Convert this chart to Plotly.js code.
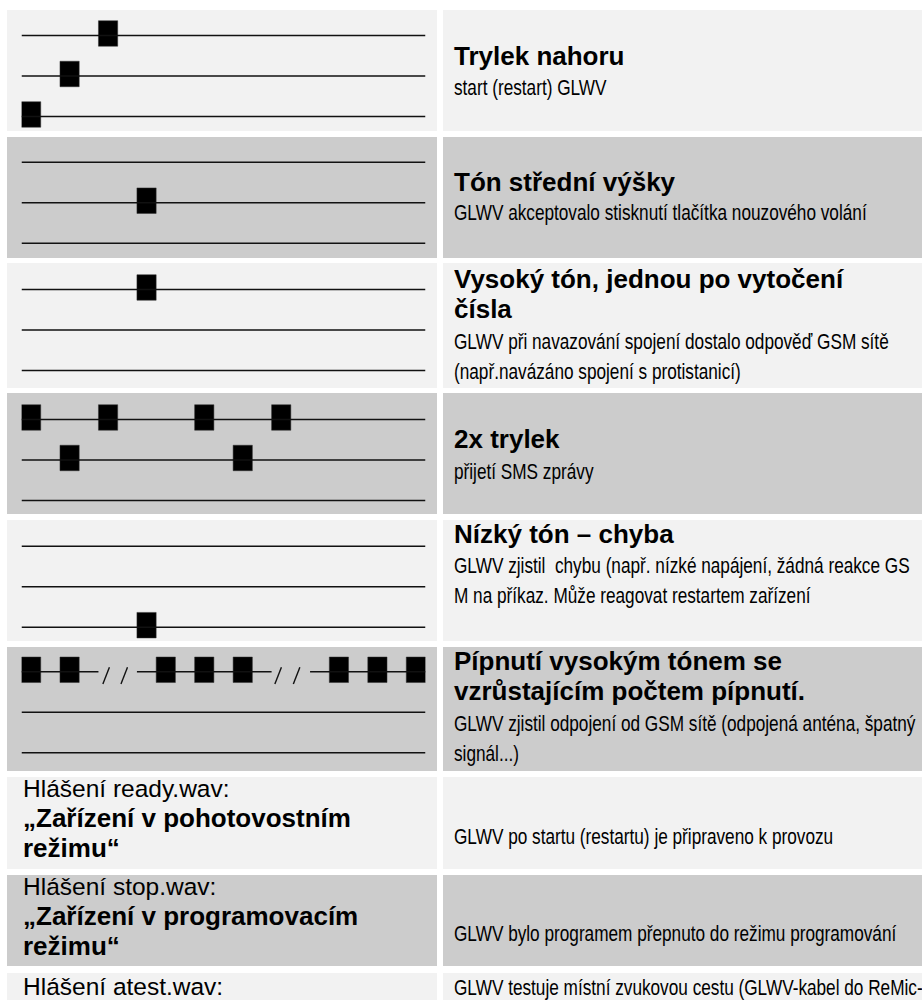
<!DOCTYPE html>
<html>
<head>
<meta charset="utf-8">
<script src="https://cdn.plot.ly/plotly-3.0.1.min.js"></script>
<style>
html,body{margin:0;padding:0;background:#ffffff;}
#chart{width:922px;height:1000px;}
</style>
</head>
<body>
<div id="chart"></div>
<script>
// ---------------- DATA ----------------
// beep positions (time slot) and pitch (1 = low line, 2 = middle line, 3 = high line) per signal row
const beepSlots = [
  [2, 1, 0],
  [3],
  [3],
  [0, 2, 4.5, 6.5, 1, 5.5],
  [3],
  [0, 1, 3.5, 4.5, 5.5, 8, 9, 10]
];
const beepPitch = [
  [3, 2, 1],
  [2],
  [3],
  [3, 3, 3, 3, 2, 2],
  [1],
  [3, 3, 3, 3, 3, 3, 3, 3]
];
const staffPitches = [1, 2, 3];
// "/ /" pause marks on the high line of the last signal row
const pauseSlots = [1.95, 2.42, 6.42, 6.9];
const staffGaps = [[1.75, 2.75], [6.25, 7.25]];

const toneTitles = [
  ["Trylek nahoru"],
  ["Tón střední výšky"],
  ["Vysoký tón, jednou po vytočení", "čísla"],
  ["2x trylek"],
  ["Nízký tón – chyba"],
  ["Pípnutí vysokým tónem se", "vzrůstajícím počtem pípnutí."]
];
const toneDescriptions = [
  ["start (restart) GLWV"],
  ["GLWV akceptovalo stisknutí tlačítka nouzového volání"],
  ["GLWV při navazování spojení dostalo odpověď GSM sítě", "(např.navázáno spojení s protistanicí)"],
  ["přijetí SMS zprávy"],
  ["GLWV zjistil\u00a0 chybu (např. nízké napájení, žádná reakce GS", "M na příkaz. Může reagovat restartem zařízení"],
  ["GLWV zjistil odpojení od GSM sítě (odpojená anténa, špatný", "signál...)"]
];
const announceLabels = ["Hlášení ready.wav:", "Hlášení stop.wav:", "Hlášení atest.wav:"];
const announceQuotes = [
  ["\u201EZařízení v pohotovostním", "režimu\u201C"],
  ["\u201EZařízení v programovacím", "režimu\u201C"],
  []
];
const announceDescriptions = [
  "GLWV po startu (restartu) je připraveno k provozu",
  "GLWV bylo programem přepnuto do režimu programování",
  "GLWV testuje místní zvukovou cestu (GLWV-kabel do ReMic-"
];

// ---------------- LAYOUT GEOMETRY ----------------
const W = 922, H = 1000;
const px = v => v / W;
const py = v => 1 - v / H;

const rowTop    = [10, 137, 263, 393, 520, 647, 777, 875, 973];
const rowBottom = [131, 258, 388, 514, 641, 771, 869, 966, 1010];
const fills = ["#f2f2f2", "#cccccc"];
const leftCell = [7, 437], rightCell = [443, 922];

const staffMid = [76, 202.7, 330, 460, 586.7, 712.3];
const staffStep = 40.5;
const staffX = [21.5, 425.5];
const slotRange = [-0.25, 10.25];

const toneTitleBase = [[65], [191.5], [288, 318], [448], [543], [670, 700]];
const toneDescBase = [[95], [220], [349, 379], [479], [573, 603], [731, 761]];
const announceLabelBase = [797, 895, 994.5];
const announceQuoteBase = [[827, 857], [925, 955], []];
const announceDescBase = [844, 941, 995];

const titleFont = {family: '"Liberation Sans", Arial, sans-serif', size: 26, color: '#000', weight: 'bold'};
const labelFont = {family: '"Liberation Sans", Arial, sans-serif', size: 24.5, color: '#000'};
const descFont  = {family: '"Liberation Sans", Arial, sans-serif', size: 22.5, color: '#000'};
const descScaleX = 0.765;   // condensed look of the description typeface

const rightTextX = 452, leftTextX = 20.5;

// ---------------- BUILD ----------------
const data = [];
const layout = {
  width: W, height: H,
  margin: {l: 0, r: 0, t: 0, b: 0, pad: 0},
  paper_bgcolor: '#ffffff',
  plot_bgcolor: 'rgba(0,0,0,0)',
  showlegend: false,
  barmode: 'overlay',
  shapes: [],
  annotations: []
};

// cell backgrounds
rowTop.forEach((t, i) => {
  const b = rowBottom[i];
  [leftCell, rightCell].forEach(c => {
    layout.shapes.push({
      type: 'rect', xref: 'paper', yref: 'paper', layer: 'below',
      x0: px(c[0]), x1: px(c[1]), y0: py(b), y1: py(t),
      fillcolor: fills[i % 2], line: {width: 0}
    });
  });
});

// signal rows
beepSlots.forEach((slots, r) => {
  const n = r + 1;
  const xa = 'x' + (n === 1 ? '' : n), ya = 'y' + (n === 1 ? '' : n);
  const top = staffMid[r] - 1.5 * staffStep, bot = staffMid[r] + 1.5 * staffStep;
  layout['xaxis' + (n === 1 ? '' : n)] = {
    domain: [px(staffX[0]), px(staffX[1])], range: slotRange,
    visible: false, fixedrange: true, anchor: ya
  };
  layout['yaxis' + (n === 1 ? '' : n)] = {
    domain: [py(bot), py(top)], range: [0.5, 3.5],
    visible: false, fixedrange: true, anchor: xa
  };

  // staff lines
  const lx = [], ly = [];
  const isPauseRow = (r === beepSlots.length - 1);
  staffPitches.forEach(p => {
    if (isPauseRow && p === 3) {
      let start = slotRange[0];
      staffGaps.forEach(g => { lx.push(start, g[0], null); ly.push(p, p, null); start = g[1]; });
      lx.push(start, slotRange[1], null); ly.push(p, p, null);
    } else {
      lx.push(slotRange[0], slotRange[1], null); ly.push(p, p, null);
    }
  });
  data.push({
    type: 'scatter', mode: 'lines', x: lx, y: ly, xaxis: xa, yaxis: ya,
    line: {color: '#111111', width: 1.4}, hoverinfo: 'skip', cliponaxis: false
  });

  if (isPauseRow) {
    const sx = [], sy = [];
    pauseSlots.forEach(s => { sx.push(s - 0.085, s + 0.085, null); sy.push(3 - 0.30, 3 + 0.11, null); });
    data.push({
      type: 'scatter', mode: 'lines', x: sx, y: sy, xaxis: xa, yaxis: ya,
      line: {color: '#111111', width: 1.4}, hoverinfo: 'skip', cliponaxis: false
    });
  }

  // beeps as bars
  data.push({
    type: 'bar', x: slots, y: slots.map(() => 0.63),
    base: beepPitch[r].map(p => p - 0.265), width: 0.5,
    xaxis: xa, yaxis: ya,
    marker: {color: '#000000', line: {color: '#333333', width: 0.5}},
    hoverinfo: 'skip'
  });
});

const descIdx = new Set();
function addText(text, xPx, basePx, font, isDesc) {
  if (isDesc) descIdx.add(layout.annotations.length);
  layout.annotations.push({
    text: text, xref: 'paper', yref: 'paper',
    x: px(xPx), y: py(basePx - 0.3465 * font.size),
    xanchor: 'left', yanchor: 'middle', showarrow: false, align: 'left',
    font: font
  });
}

toneTitles.forEach((lines, r) => {
  lines.forEach((t, k) => addText(t, rightTextX, toneTitleBase[r][k], titleFont, false));
  toneDescriptions[r].forEach((t, k) => addText(t, rightTextX, toneDescBase[r][k], descFont, true));
});
announceLabels.forEach((t, i) => {
  addText(t, leftTextX, announceLabelBase[i], labelFont, false);
  announceQuotes[i].forEach((q, k) => addText(q, leftTextX, announceQuoteBase[i][k], titleFont, false));
  addText(announceDescriptions[i], rightTextX, announceDescBase[i], descFont, true);
});

Plotly.newPlot('chart', data, layout, {staticPlot: true, displayModeBar: false}).then(gd => {
  gd.querySelectorAll('g.annotation').forEach(g => {
    const idx = +g.getAttribute('data-index');
    if (!descIdx.has(idx)) return;
    const t = g.querySelector('text.annotation-text');
    if (!t) return;
    const x0 = parseFloat(t.getAttribute('x')) || 0;
    t.setAttribute('transform',
      'translate(' + x0 + ',0) scale(' + descScaleX + ',1) translate(' + (-x0) + ',0)');
    const bg = g.querySelector('rect.bg');
    if (bg) {
      const w = parseFloat(bg.getAttribute('width')) || 0;
      bg.setAttribute('width', (w * descScaleX).toFixed(2));
    }
  });
});
</script>
</body>
</html>
